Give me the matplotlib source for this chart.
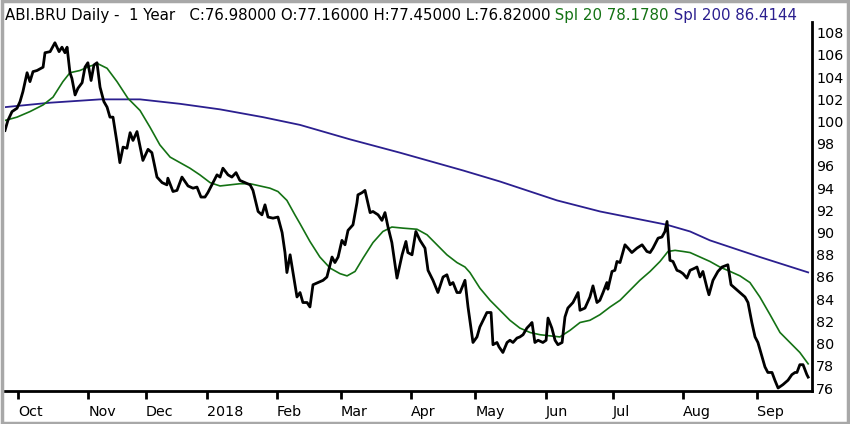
import matplotlib
matplotlib.use("Agg")
import matplotlib.pyplot as plt
from matplotlib.patches import Rectangle

# session index (trading days) and closing price
close_x = [0, 0.9, 2.2, 3.75, 4.7, 5.6, 6.9, 7.8, 8.75, 10, 11.9, 12.5, 14.1, 15.6, 16.9,
           17.8, 18.75, 19.4, 20.3, 20.9, 21.9, 22.8, 24.1, 25, 25.9, 26.9, 27.8, 28.75,
           29.7, 30.9, 31.9, 32.8, 33.75, 35, 35.9, 36.9, 38.1, 39.1, 40, 41.25, 43.1,
           44.7, 45.9, 47.5, 49.1, 50.6, 50.9, 52.5, 53.75, 55.3, 57.2, 58.75, 60, 61.25,
           62.5, 63.4, 65, 66.25, 67.2, 68.1, 69.7, 70.9, 72.2, 73.4, 75, 76.6, 77.5,
           79.1, 80.3, 81.25, 82.2, 83.75, 85.3, 86.6, 87.5, 88.1, 89.1, 90, 91.25, 92.2,
           93.1, 94.4, 95.3, 96.25, 97.8, 99.4, 100.6, 102.2, 103.1, 104.1, 105.3, 106.25,
           107.2, 108.75, 110, 110.3, 111.6, 112.5, 114.1, 115, 116.6, 117.8, 118.75,
           119.7, 120.9, 122.5, 124.1, 125.3, 125.9, 127.2, 128.4, 129.7, 131.25, 132.2,
           133.75, 135.3, 136.9, 138.1, 139.1, 140, 141.25, 142.2, 143.75, 144.7, 146.25,
           147.5, 148.4, 149.4, 150.6, 151.9, 152.5, 153.75, 154.4, 155.6, 156.9, 157.8,
           158.75, 160, 160.9, 161.9, 163.1, 164.1, 164.7, 165.6, 166.6, 168.1, 169.1,
           169.7, 170.9, 171.9, 172.8, 174.1, 175, 175.9, 177.5, 179.1, 179.7, 181.25,
           182.8, 183.75, 185, 185.9, 186.9, 188.1, 188.4, 189.7, 190.6, 191.25, 192.2,
           193.75, 194.7, 195.9, 197.5, 199.1, 200.6, 201.6, 202.5, 204.1, 205.3, 206.25,
           206.9, 207.8, 208.75, 210, 210.9, 211.9, 213.1, 214.1, 215.6, 216.25, 217.2,
           218.1, 219.4, 220, 221.25, 222.8, 224.1, 225.9, 226.9, 228.1, 229.7, 231.25,
           232.2, 233.4, 234.4, 235.3, 236.6, 237.5, 238.4, 239.7, 240.6, 241.6, 243.1,
           244.7, 245.9, 246.9, 247.5, 248.4, 249.4, 250.6, 251]
close_y = [99.2, 100.1, 100.9, 101.2, 101.8, 102.7, 104.4, 103.6, 104.5, 104.6, 104.9, 106.2,
           106.3, 107.1, 106.3, 106.7, 106.2, 106.7, 104.4, 103.9, 102.4, 103.0, 103.5,
           104.9, 105.3, 103.7, 105.1, 105.3, 103.1, 101.8, 101.3, 100.4, 100.4, 98.1,
           96.3, 97.7, 97.6, 99.0, 98.3, 99.1, 96.5, 97.5, 97.2, 95.0, 94.5, 94.3, 94.9,
           93.7, 93.8, 95.0, 94.2, 94.0, 94.1, 93.2, 93.2, 93.6, 94.5, 95.2, 95.0, 95.8,
           95.2, 95.0, 95.4, 94.7, 94.5, 94.3, 93.8, 91.9, 91.6, 92.5, 91.4, 91.3, 91.4,
           90.0, 88.2, 86.4, 88.0, 86.4, 84.2, 84.6, 83.7, 83.7, 83.3, 85.3, 85.5, 85.7,
           86.0, 87.8, 87.3, 87.8, 89.3, 88.9, 90.2, 90.7, 92.7, 93.4, 93.6, 93.8, 91.8,
           91.9, 91.6, 91.1, 91.8, 90.5, 89.1, 85.9, 88.0, 89.2, 88.2, 88.0, 90.1, 89.3,
           88.6, 86.6, 85.7, 84.6, 86.0, 86.2, 85.3, 85.5, 84.6, 84.6, 85.7, 83.3, 80.1,
           80.6, 81.5, 82.1, 82.8, 82.8, 79.9, 80.1, 79.7, 79.2, 80.1, 80.3, 80.1, 80.5,
           80.6, 80.8, 81.4, 81.7, 81.9, 80.1, 80.3, 80.1, 80.3, 82.3, 81.4, 80.3, 79.9,
           80.1, 82.4, 83.2, 83.7, 84.6, 83.0, 83.2, 84.2, 85.2, 83.7, 83.9, 84.6, 85.5,
           84.9, 86.5, 86.6, 87.4, 87.3, 88.9, 88.6, 88.2, 88.6, 88.9, 88.3, 88.2, 88.6,
           89.5, 89.6, 90.1, 91.0, 87.5, 87.4, 86.6, 86.5, 86.3, 85.9, 86.6, 86.8, 86.9,
           86.0, 86.5, 85.0, 84.4, 85.7, 86.5, 86.9, 87.1, 85.3, 85.0, 84.6, 84.2, 83.7,
           81.9, 80.6, 80.1, 78.8, 77.9, 77.4, 77.4, 76.7, 76.0, 76.3, 76.7, 77.2, 77.4,
           77.4, 78.1, 78.1, 77.2, 76.98]

# 20 day simple moving average
spl20_x = [0, 3.75, 7.8, 11.9, 15, 18.1, 20.3, 23.4, 26.6, 29.1, 31.9, 35, 38.4, 42.2, 45.3,
           48.4, 51.6, 54.7, 57.8, 60.9, 64.1, 67.2, 70.3, 73.4, 76.6, 79.7, 82.8, 85.3,
           88.1, 90.6, 92.2, 95.3, 98.4, 101.6, 104.7, 106.9, 109.4, 111.9, 115, 118.1,
           120.9, 124.4, 128.75, 131.9, 135, 138.1, 141.25, 143.75, 145.3, 148.4, 151.6,
           154.7, 157.8, 160.9, 164.1, 167.2, 170.3, 173.4, 176.6, 179.7, 182.8, 185.9,
           189.1, 192.2, 195.3, 198.4, 201.6, 204.7, 207.2, 209.4, 211.9, 214.1, 217.2,
           220.3, 223.4, 226.6, 229.7, 232.8, 235.9, 239.1, 242.2, 245.3, 248.4, 251]
spl20_y = [100.1, 100.4, 100.9, 101.5, 102.2, 103.6, 104.4, 104.6, 105.0, 105.2, 104.8, 103.6,
           102.1, 101.0, 99.5, 97.9, 96.8, 96.3, 95.8, 95.2, 94.5, 94.2, 94.3, 94.4, 94.4,
           94.2, 94.0, 93.7, 92.9, 91.6, 90.8, 89.2, 87.8, 86.8, 86.3, 86.1, 86.5, 87.7,
           89.1, 90.1, 90.5, 90.4, 90.3, 89.8, 88.9, 88.0, 87.3, 86.9, 86.4, 85.0, 83.9,
           83.0, 82.1, 81.4, 81.0, 80.8, 80.7, 80.6, 81.2, 81.9, 82.1, 82.6, 83.3, 83.9,
           84.8, 85.7, 86.5, 87.4, 88.3, 88.4, 88.3, 88.2, 87.8, 87.4, 86.9, 86.5, 86.1,
           85.5, 84.2, 82.6, 81.0, 80.1, 79.2, 78.178]

# 200 day simple moving average
spl200_x = [0, 14.1, 29.7, 42.2, 54.7, 67.2, 80.6, 92.2, 107.8, 123.4, 143.1, 154.7, 172.5,
            186.0, 206.9, 214.1, 220.3, 235.9, 251]
spl200_y = [101.3, 101.7, 102.0, 102.0, 101.6, 101.1, 100.4, 99.7, 98.4, 97.2, 95.6, 94.6,
            92.9, 91.9, 90.7, 90.1, 89.3, 87.8, 86.4144]

month_ticks = [4, 26, 44, 63, 85, 105, 127, 147, 169, 190, 212, 235]
month_labels = ["Oct", "Nov", "Dec", "2018", "Feb", "Mar", "Apr", "May", "Jun", "Jul",
                "Aug", "Sep"]
price_ticks = list(range(76, 110, 2))

fig = plt.figure(figsize=(8.5, 4.24), dpi=100)
ax = fig.add_axes([5 / 850, 33 / 424, 807 / 850, 369 / 424])

ax.plot(spl200_x, spl200_y, color="#2b1f8f", linewidth=1.3)
ax.plot(spl20_x, spl20_y, color="#147214", linewidth=1.2)
ax.plot(close_x, close_y, color="black", linewidth=2.0)

ax.set_xlim(0, 252.2)
ax.set_ylim(75.73, 108.97)

for side in ["top", "left"]:
    ax.spines[side].set_visible(False)
for side in ["right", "bottom"]:
    ax.spines[side].set_linewidth(2)

ax.yaxis.tick_right()
ax.set_yticks(price_ticks)
ax.set_yticklabels([str(v) for v in price_ticks])
ax.tick_params(axis="y", length=0, pad=3, labelsize=10.3)

ax.set_xticks(month_ticks)
ax.set_xticklabels(month_labels, ha="left")
ax.tick_params(axis="x", length=6, width=2, pad=4, labelsize=10.3)

# header line with coloured parts
t1 = fig.text(5 / 850, 1 - 20 / 424,
              "ABI.BRU Daily -  1 Year   C:76.98000 O:77.16000 H:77.45000 L:76.82000",
              fontsize=10.8, color="black", ha="left", va="baseline")
t2 = ax.annotate(" Spl 20 78.1780", xy=(1, 0), xycoords=t1, fontsize=10.8,
                 color="#147214", ha="left", va="bottom", annotation_clip=False)
ax.annotate(" Spl 200 86.4144", xy=(1, 0), xycoords=t2, fontsize=10.8,
            color="#2b1f8f", ha="left", va="bottom", annotation_clip=False)

fig.patches.append(Rectangle((0.002, 0.003), 0.996, 0.994, transform=fig.transFigure,
                             fill=False, edgecolor="#a8a8a8", linewidth=2.5))

fig.savefig("out.png", dpi=100)
